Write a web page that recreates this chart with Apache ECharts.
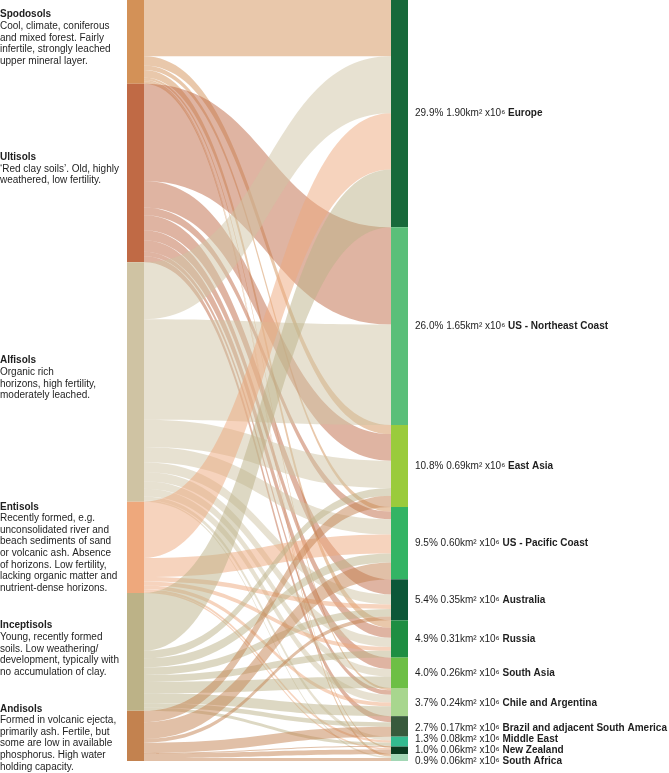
<!DOCTYPE html>
<html>
<head>
<meta charset="utf-8">
<script src="https://cdn.jsdelivr.net/npm/echarts@6/dist/echarts.min.js"></script>
<style>
html,body{margin:0;padding:0;background:#fff;}
#chart{width:669px;height:773px;}
</style>
</head>
<body>
<div id="chart"></div>
<script>
// ---- Data ----
const soils = ['Spodosols', 'Ultisols', 'Alfisols', 'Entisols', 'Inceptisols', 'Andisols'];
const soilNotes = [
  ['Cool, climate, coniferous', 'and mixed forest. Fairly', 'infertile, strongly leached', 'upper mineral layer.'],
  ['\u2018Red clay soils\u2019. Old, highly', 'weathered, low fertility.'],
  ['Organic rich', 'horizons, high fertility,', 'moderately leached.'],
  ['Recently formed, e.g.', 'unconsolidated river and', 'beach sediments of sand', 'or volcanic ash. Absence', 'of horizons. Low fertility,', 'lacking organic matter and', 'nutrient-dense horizons.'],
  ['Young, recently formed', 'soils. Low weathering/', 'development, typically with', 'no accumulation of clay.'],
  ['Formed in volcanic ejecta,', 'primarily ash. Fertile, but', 'some are low in available', 'phosphorus. High water', 'holding capacity.']
];
const regions = ['Europe', 'US - Northeast Coast', 'East Asia', 'US - Pacific Coast', 'Australia', 'Russia',
  'South Asia', 'Chile and Argentina', 'Brazil and adjacent South America', 'Middle East', 'New Zealand', 'South Africa'];
const regionPct = ['29.9%', '26.0%', '10.8%', '9.5%', '5.4%', '4.9%', '4.0%', '3.7%', '2.7%', '1.3%', '1.0%', '0.9%'];
const regionArea = ['1.90', '1.65', '0.69', '0.60', '0.35', '0.31', '0.26', '0.24', '0.17', '0.08', '0.06', '0.06'];

// flows (% of total area) from each soil to each region, in the regions order above
const spodosolsFlow   = [7.4, 0,    1.2, 0.6, 0,   1.0, 0,   0.3, 0,   0,   0.2, 0.3];
const ultisolsFlow    = [0,   12.8, 3.5, 1.0, 2.0, 1.3, 1.5, 0.6, 0.8, 0,   0,   0];
const alfisolsFlow    = [7.5, 13.2, 3.6, 2.0, 1.3, 1.2, 1.0, 1.0, 0,   0.5, 0,   0.2];
const entisolsFlow    = [7.4, 0,    0,   2.5, 0.6, 0.5, 0,   0.5, 0,   0.3, 0.2, 0];
const inceptisolsFlow = [7.6, 0,    1.0, 1.2, 1.0, 0.9, 1.5, 1.3, 0.6, 0.4, 0,   0];
const andisolsFlow    = [0,   0,    1.5, 2.2, 0.5, 0,   0,   0,   1.3, 0.1, 0.6, 0.4];
const flows = [spodosolsFlow, ultisolsFlow, alfisolsFlow, entisolsFlow, inceptisolsFlow, andisolsFlow];

// ---- Styles ----
const soilColors = ['#d39157', '#c06a45', '#cfc3a3', '#eea87c', '#bcb287', '#c3824f'];
const regionColors = ['#17693a', '#5abf79', '#9acb3c', '#33b464', '#0c5738', '#1e8e42',
  '#6dbf45', '#a8d68e', '#385a3c', '#34bb90', '#0b3b20', '#a3d7b5'];
const soilLabelShift = [-4, -4, -4, 0, -3, 2];
const regionLabelShift = [0, 0, 0, 0, 0, 0, 0, 1, 2, -2, 0, 3.5];

const FONT = '"Liberation Sans", Arial, Helvetica, sans-serif';

const nodes = [];
soils.forEach(function (s, i) {
  const text = ['{t|' + s + '}'].concat(soilNotes[i].map(function (l) { return '{d|' + l + '}'; })).join('\n');
  nodes.push({
    name: s,
    itemStyle: { color: soilColors[i], borderWidth: 0 },
    label: {
      show: true,
      position: 'left',
      distance: 127,
      align: 'left',
      verticalAlign: 'middle',
      offset: [0, soilLabelShift[i]],
      formatter: text,
      rich: {
        t: { fontFamily: FONT, fontSize: 10, fontWeight: 'bold', color: '#1e1e1e', lineHeight: 11.6, align: 'left' },
        d: { fontFamily: FONT, fontSize: 10, color: '#1e1e1e', lineHeight: 11.6, align: 'left' }
      }
    }
  });
});
regions.forEach(function (r, j) {
  nodes.push({
    name: r,
    itemStyle: { color: regionColors[j], borderWidth: 0 },
    label: {
      show: true,
      position: 'right',
      distance: 7,
      align: 'left',
      verticalAlign: 'middle',
      offset: [0, regionLabelShift[j]],
      formatter: '{n|' + regionPct[j] + ' ' + regionArea[j] + 'km\u00b2 x10\u2076 }{b|' + r + '}',
      rich: {
        n: { fontFamily: FONT, fontSize: 10, color: '#1e1e1e' },
        b: { fontFamily: FONT, fontSize: 10, color: '#1e1e1e', fontWeight: 'bold' }
      }
    }
  });
});

const links = [];
flows.forEach(function (row, i) {
  row.forEach(function (v, j) {
    if (v > 0) links.push({ source: soils[i], target: regions[j], value: v });
  });
});

const chart = echarts.init(document.getElementById('chart'), null, { renderer: 'canvas' });
chart.setOption({
  animation: false,
  backgroundColor: '#ffffff',
  series: [{
    type: 'sankey',
    left: 127,
    right: 261,
    top: 0,
    bottom: 12,
    nodeWidth: 17,
    nodeGap: 0,
    layoutIterations: 0,
    draggable: false,
    emphasis: { disabled: true },
    data: nodes,
    links: links,
    lineStyle: { color: 'source', opacity: 0.5, curveness: 0.5 },
    itemStyle: { borderWidth: 0 }
  }]
});
</script>
</body>
</html>
